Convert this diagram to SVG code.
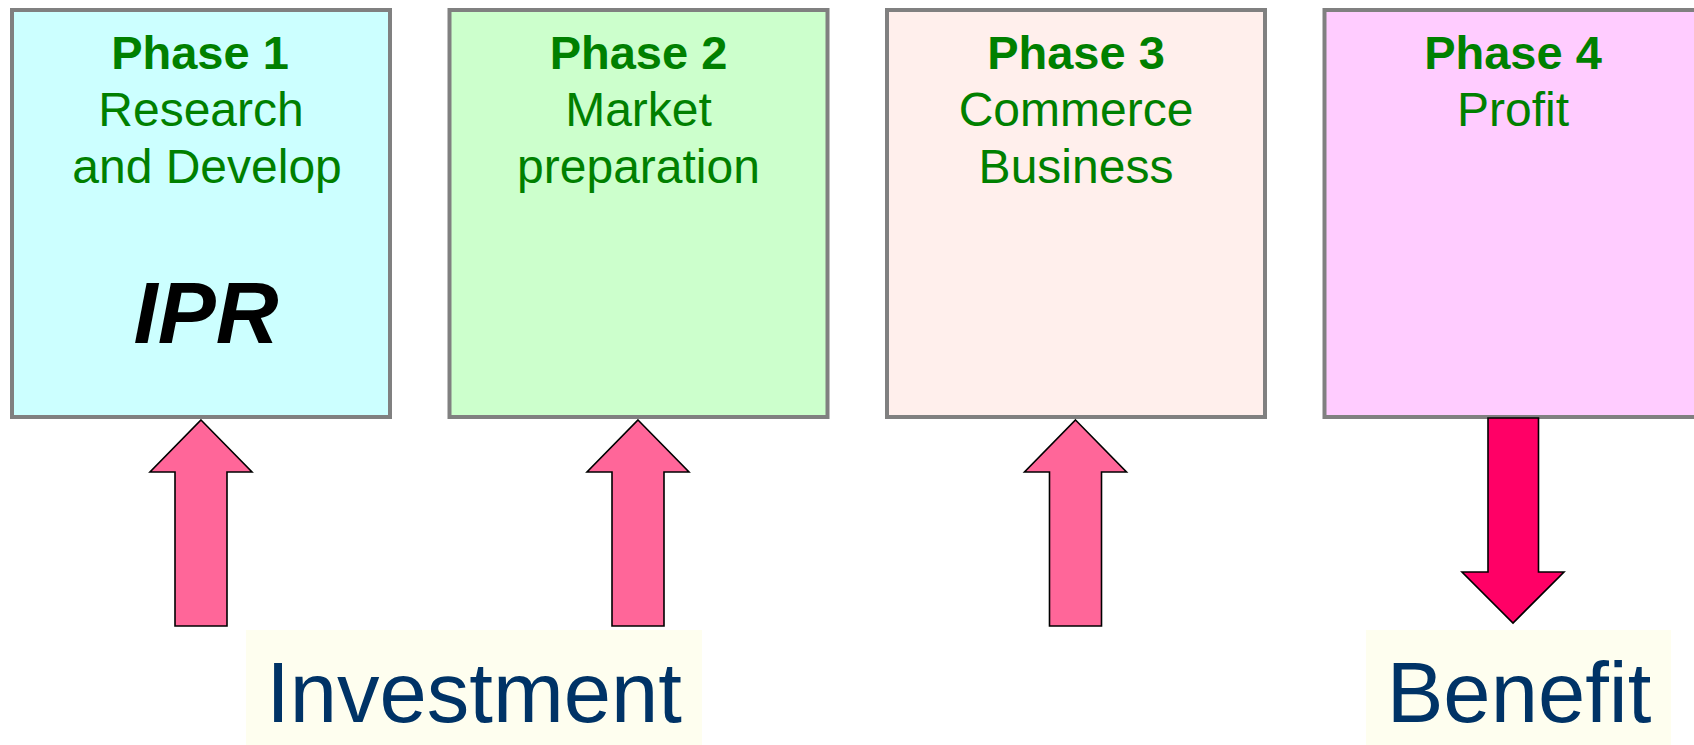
<svg xmlns="http://www.w3.org/2000/svg" width="1694" height="745" viewBox="0 0 1694 745">
<style>
.box{stroke:#808080;stroke-width:4}
.t{font-family:"Liberation Sans",Arial,sans-serif;fill:#008000;text-anchor:middle;font-size:48px}
.b{font-weight:bold;font-size:47px}
.up{fill:#FF6699;stroke:#000;stroke-width:1.6;stroke-linejoin:miter}
.dn{fill:#FF0066;stroke:#000;stroke-width:1.6}
.lbg{fill:#FEFEEF}
.lt{font-family:"Liberation Sans",Arial,sans-serif;fill:#003366;text-anchor:middle;font-size:85px}
</style>
<rect width="1694" height="745" fill="#fff"/>
<g id="phase1">
<rect class="box" x="12" y="10" width="378" height="407" fill="#CCFFFF"/>
<text class="t b" x="200" y="69">Phase 1</text>
<text class="t" x="201" y="126">Research</text>
<text class="t" x="207" y="183">and Develop</text>
<text x="206" y="343" font-family="Liberation Sans,Arial,sans-serif" font-size="87" font-weight="bold" font-style="italic" text-anchor="middle" fill="#000">IPR</text>
</g>
<g id="phase2">
<rect class="box" x="449.5" y="10" width="378" height="407" fill="#CCFFCC"/>
<text class="t b" x="638.5" y="69">Phase 2</text>
<text class="t" x="638.5" y="126">Market</text>
<text class="t" x="638.5" y="183">preparation</text>
</g>
<g id="phase3">
<rect class="box" x="887" y="10" width="378" height="407" fill="#FFEFEC"/>
<text class="t b" x="1076" y="69">Phase 3</text>
<text class="t" x="1076" y="126">Commerce</text>
<text class="t" x="1076" y="183">Business</text>
</g>
<g id="phase4">
<rect class="box" x="1324.5" y="10" width="378" height="407" fill="#FFCCFF"/>
<text class="t b" x="1513" y="69">Phase 4</text>
<text class="t" x="1513" y="126">Profit</text>
</g>
<g id="connectors">
<path class="up" d="M201,420 L252,472 L227,472 L227,626 L175,626 L175,472 L150,472 Z"/>
<path class="up" d="M638,420 L689,472 L664,472 L664,626 L612,626 L612,472 L587,472 Z"/>
<path class="up" d="M1075.5,420 L1126.5,472 L1101.5,472 L1101.5,626 L1049.5,626 L1049.5,472 L1024.5,472 Z"/>
<path class="dn" d="M1488,418 L1538.5,418 L1538.5,572 L1564,572 L1513,623 L1462,572 L1488,572 Z"/>
</g>
<g id="investment">
<rect class="lbg" x="246" y="630" width="456" height="115"/>
<text class="lt" x="474" y="722">Investment</text>
</g>
<g id="benefit">
<rect class="lbg" x="1366" y="630" width="305" height="115"/>
<text class="lt" x="1519" y="722" font-size="84">Benefit</text>
</g>
</svg>
